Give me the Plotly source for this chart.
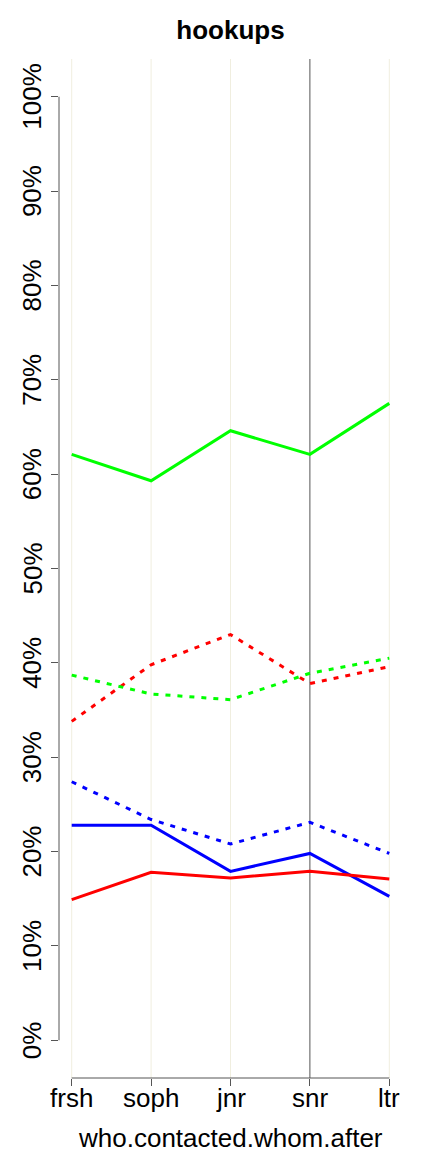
import plotly.graph_objects as go

categories = ["frsh", "soph", "jnr", "snr", "ltr"]
x_pos = [1, 2, 3, 4, 5]

green_solid = [62.1, 59.3, 64.6, 62.1, 67.5]
red_dashed = [33.8, 39.8, 43.0, 37.8, 39.6]
green_dashed = [38.7, 36.7, 36.1, 38.9, 40.5]
blue_dashed = [27.4, 23.4, 20.8, 23.1, 19.8]
blue_solid = [22.8, 22.8, 17.9, 19.8, 15.25]
red_solid = [14.9, 17.8, 17.2, 17.9, 17.1]

y_ticks = [0, 10, 20, 30, 40, 50, 60, 70, 80, 90, 100]
y_tick_text = [f"{v}%" for v in y_ticks]

FONT = "Liberation Sans, Arial, Helvetica, sans-serif"
FS = 26
W, H = 432, 1152
OFF = 8  # page body margin

series = [
    (green_solid, "#00FF00", "solid"),
    (red_dashed, "#FF0000", "5px,7px"),
    (green_dashed, "#00FF00", "5px,7px"),
    (blue_dashed, "#0000FF", "5px,7px"),
    (blue_solid, "#0000FF", "solid"),
    (red_solid, "#FF0000", "solid"),
]

fig = go.Figure()
for vals, col, dash in series:
    fig.add_trace(go.Scatter(x=x_pos, y=vals, mode="lines",
                             line=dict(color=col, width=3, dash=dash),
                             showlegend=False, hoverinfo="skip"))

shapes = []
for xv in x_pos[:3] + [x_pos[4]]:
    shapes.append(dict(type="line", xref="x", yref="paper", x0=xv, x1=xv, y0=0, y1=1,
                       line=dict(color="#F0EEDF", width=1), layer="below"))
shapes.append(dict(type="line", xref="x", yref="paper", x0=4, x1=4, y0=0, y1=1,
                   line=dict(color="#555555", width=1), layer="below"))
# axis lines
shapes.append(dict(type="line", xref="paper", yref="y", x0=0, x1=0, y0=0, y1=100,
                   line=dict(color="#555555", width=1)))
shapes.append(dict(type="line", xref="x", yref="paper", x0=1, x1=5, y0=0, y1=0,
                   line=dict(color="#555555", width=1)))

annotations = []
for v, t in zip(y_ticks, y_tick_text):
    annotations.append(dict(text=t, x=0, xref="paper", y=v, yref="y",
                            xanchor="center", yanchor="middle", xshift=-27,
                            textangle=-90, showarrow=False,
                            font=dict(size=FS, family=FONT, color="black")))
for xv, t in zip(x_pos, categories):
    annotations.append(dict(text=t, x=xv, xref="x", y=0, yref="paper",
                            xanchor="center", yanchor="middle", yshift=-20,
                            showarrow=False,
                            font=dict(size=FS, family=FONT, color="black")))
annotations.append(dict(text="who.contacted.whom.after", x=0.5, xref="paper",
                        y=0, yref="paper", xanchor="center", yanchor="middle",
                        yshift=-60, showarrow=False,
                        font=dict(size=FS, family=FONT, color="black")))

fig.update_layout(
    width=W, height=H,
    margin=dict(l=59 - OFF, r=30 + OFF, t=59 - OFF, b=74 + OFF),
    paper_bgcolor="white", plot_bgcolor="white",
    font=dict(family=FONT, size=FS, color="black"),
    title=dict(text="<b>hookups</b>", x=0.5, xref="paper", y=1 - (30 - OFF) / H,
               yanchor="middle", font=dict(size=FS, family=FONT, color="black")),
    shapes=shapes,
    annotations=annotations,
    xaxis=dict(range=[0.84, 5.16], tickvals=x_pos, ticktext=[""] * 5,
               showgrid=False, zeroline=False, showline=False, automargin=False,
               ticks="outside", ticklen=7, tickcolor="#555555", tickwidth=1),
    yaxis=dict(range=[-4, 104], tickvals=y_ticks, ticktext=[""] * len(y_ticks),
               showgrid=False, zeroline=False, showline=False, automargin=False,
               ticks="outside", ticklen=7, tickcolor="#555555", tickwidth=1),
)

fig.write_html("out.html")
